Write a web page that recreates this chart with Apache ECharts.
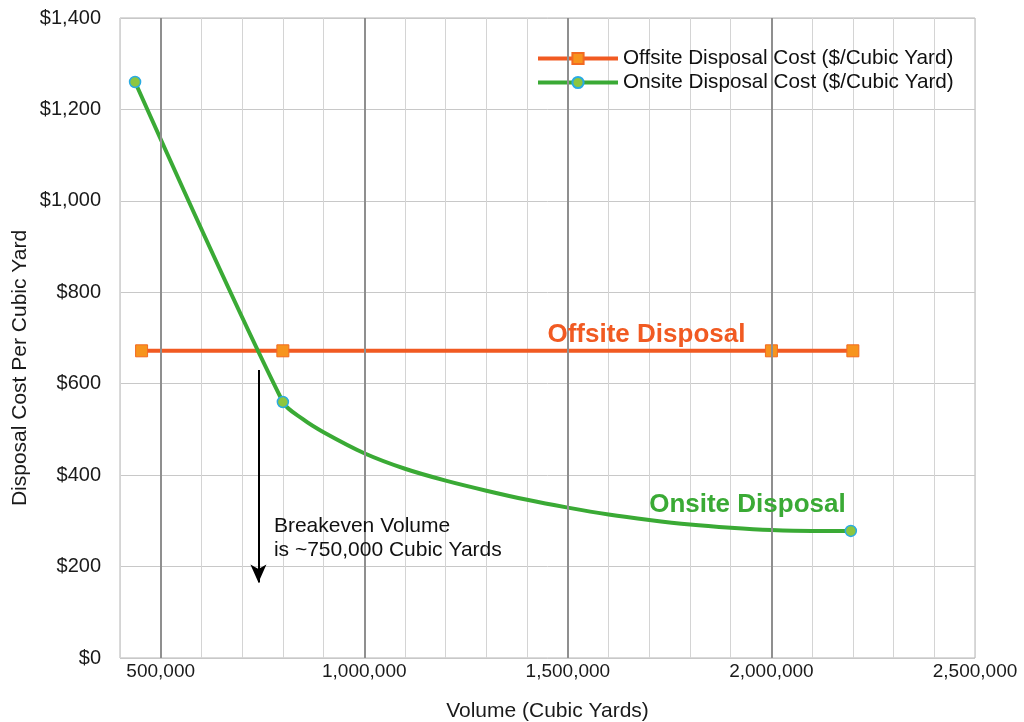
<!DOCTYPE html>
<html>
<head>
<meta charset="utf-8">
<script src="https://cdn.jsdelivr.net/npm/echarts@6/dist/echarts.min.js"></script>
<style>
html,body{margin:0;padding:0;background:#fff;}
#chart{width:1024px;height:722px;}
</style>
</head>
<body>
<div id="chart"></div>
<script>
// ---- data ----
var offsiteVolume = [453000, 800000, 2000000, 2200000];
var offsiteCost = [672, 672, 672, 672];

var onsiteVolume = [437000, 800000, 850000, 900000, 1000000, 1100000, 1200000, 1300000, 1400000, 1500000, 1600000, 1700000, 1800000, 1900000, 2000000, 2100000, 2195000];
var onsiteCost = [1260, 560, 522, 494, 448, 414, 388, 366, 346, 329, 314, 302, 292, 285, 280, 278, 278];
var onsiteMarkerVolume = [437000, 800000, 2195000];

var majorGridVolume = [500000, 1000000, 1500000, 2000000];
var xTickLabels = ['500,000', '1,000,000', '1,500,000', '2,000,000', '2,500,000'];
var xTickValues = [500000, 1000000, 1500000, 2000000, 2500000];
var yTickLabels = ['$0', '$200', '$400', '$600', '$800', '$1,000', '$1,200', '$1,400'];

var seriesNames = ['Offsite Disposal Cost ($/Cubic Yard)', 'Onsite Disposal Cost ($/Cubic Yard)'];
var breakevenVolume = 740000;
var breakevenArrow = [630, 165];
var offsiteLabel = { text: 'Offsite Disposal', volume: 1693000, cost: 708 };
var onsiteLabel = { text: 'Onsite Disposal', volume: 1941000, cost: 334 };
var breakevenText = { lines: ['Breakeven Volume', 'is ~750,000 Cubic Yards'], volume: 778000, cost: [289, 236] };

// ---- build ----
var FONT = '"Liberation Sans", Arial, sans-serif';
var offsiteData = offsiteVolume.map(function (v, i) { return [v, offsiteCost[i]]; });
var onsiteData = onsiteVolume.map(function (v, i) {
  var item = { value: [v, onsiteCost[i]] };
  if (onsiteMarkerVolume.indexOf(v) < 0) { item.symbol = 'none'; }
  return item;
});

var chart = echarts.init(document.getElementById('chart'));
var option = {
  animation: false,
  backgroundColor: '#ffffff',
  grid: { left: 120, right: 49, top: 18, bottom: 64, show: true, borderColor: '#b4b4b4', borderWidth: 1, containLabel: false, outerBoundsMode: 'none' },
  legend: {
    orient: 'vertical', left: 531, top: 43, itemWidth: 80, itemHeight: 14, itemGap: 3,
    data: seriesNames,
    lineStyle: { width: 4 },
    textStyle: { fontFamily: FONT, fontSize: 20.7, color: '#111' }
  },
  xAxis: {
    type: 'value', min: 400000, max: 2500000, interval: 100000,
    axisLine: { show: false }, axisTick: { show: false },
    axisLabel: {
      fontFamily: FONT, fontSize: 19, color: '#1a1a1a', margin: 4,
      formatter: function (v) { var k = xTickValues.indexOf(v); return k >= 0 ? xTickLabels[k] : ''; }
    },
    splitLine: { show: true, lineStyle: { color: '#d4d4d4', width: 1 } },
    name: 'Volume (Cubic Yards)', nameLocation: 'middle', nameGap: 43,
    nameTextStyle: { fontFamily: FONT, fontSize: 21, color: '#1a1a1a' }
  },
  yAxis: {
    type: 'value', min: 0, max: 1400, interval: 200,
    axisLine: { show: false }, axisTick: { show: false },
    axisLabel: {
      fontFamily: FONT, fontSize: 20, color: '#1a1a1a', margin: 19,
      formatter: function (v) { return yTickLabels[Math.round(v / 200)]; }
    },
    splitLine: { show: true, lineStyle: { color: '#c8c8c8', width: 1 } }
  },
  series: [
    {
      name: 'majorGrid', type: 'line', data: [], z: 1, silent: true,
      markLine: {
        silent: true, symbol: 'none', label: { show: false },
        lineStyle: { color: '#8f8f8f', width: 2, type: 'solid' },
        data: majorGridVolume.map(function (v) { return { xAxis: v }; })
      }
    },
    {
      name: seriesNames[0], type: 'line', data: offsiteData, z: 3,
      symbol: 'rect', symbolSize: 12,
      itemStyle: { color: '#f7941d', borderColor: '#f26a22', borderWidth: 1 },
      lineStyle: { color: '#f15a22', width: 4 }
    },
    {
      name: seriesNames[1], type: 'line', data: onsiteData, z: 4,
      smooth: 0.3, symbol: 'circle', symbolSize: 11,
      itemStyle: { color: '#8dc63f', borderColor: '#29abe2', borderWidth: 1.5 },
      lineStyle: { color: '#3aaa35', width: 4 },
      markLine: {
        silent: true, symbol: ['none', 'arrow'], symbolSize: [12, 18],
        label: { show: false },
        lineStyle: { color: '#000', width: 2, type: 'solid' },
        data: [[{ coord: [breakevenVolume, breakevenArrow[0]] }, { coord: [breakevenVolume, breakevenArrow[1]] }]]
      }
    }
  ]
};
chart.setOption(option);

function px(v, c) { return chart.convertToPixel({ gridIndex: 0 }, [v, c]); }
var p1 = px(offsiteLabel.volume, offsiteLabel.cost);
var p2 = px(onsiteLabel.volume, onsiteLabel.cost);
var p3 = px(breakevenText.volume, breakevenText.cost[0]);
var p4 = px(breakevenText.volume, breakevenText.cost[1]);
chart.setOption({
  graphic: [
    { type: 'text', x: p1[0], y: p1[1], z: 10, style: { text: offsiteLabel.text, fill: '#f15a22', font: 'bold 26px ' + FONT, textAlign: 'center', textVerticalAlign: 'middle' } },
    { type: 'text', x: p2[0], y: p2[1], z: 10, style: { text: onsiteLabel.text, fill: '#3aaa35', font: 'bold 26px ' + FONT, textAlign: 'center', textVerticalAlign: 'middle' } },
    { type: 'text', x: p3[0], y: p3[1], z: 10, style: { text: breakevenText.lines[0], fill: '#111', font: '21px ' + FONT, textAlign: 'left', textVerticalAlign: 'middle' } },
    { type: 'text', x: p4[0], y: p4[1], z: 10, style: { text: breakevenText.lines[1], fill: '#111', font: '21px ' + FONT, textAlign: 'left', textVerticalAlign: 'middle' } },
    { type: 'text', x: 20, y: 368, rotation: Math.PI / 2, z: 10, style: { text: 'Disposal Cost Per Cubic Yard', fill: '#1a1a1a', font: '21px ' + FONT, textAlign: 'center', textVerticalAlign: 'middle' } }
  ]
});
</script>
</body>
</html>
